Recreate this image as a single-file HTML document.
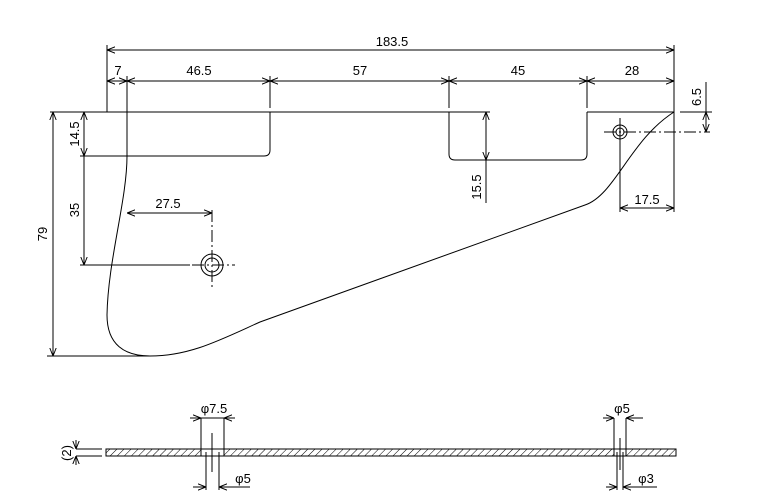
<!DOCTYPE html>
<html><head><style>
html,body{margin:0;padding:0;background:#fff;}
svg{display:block;}
text{font-family:"Liberation Sans",sans-serif;font-size:13px;fill:#000;}
</style></head><body>
<svg width="765" height="501" viewBox="0 0 765 501" xmlns="http://www.w3.org/2000/svg">
<defs>
<pattern id="h" width="5" height="5" patternUnits="userSpaceOnUse" patternTransform="rotate(45)">
<line x1="0" y1="0" x2="0" y2="5" stroke="#000" stroke-width="1"/>
</pattern>
<marker id="a" viewBox="0 0 10 10" refX="10" refY="5" markerWidth="8" markerHeight="8" orient="auto-start-reverse" markerUnits="userSpaceOnUse">
<path d="M0,1 L10,5 L0,9" fill="none" stroke="#000" stroke-width="1.2"/>
</marker>
</defs>
<g stroke="#000" stroke-width="1" fill="none">
<line x1="107" y1="45" x2="107" y2="112"/>
<line x1="674" y1="45" x2="674" y2="112"/>
<line x1="127" y1="76" x2="127" y2="156"/>
<line x1="270" y1="76" x2="270" y2="108"/>
<line x1="449" y1="76" x2="449" y2="108"/>
<line x1="587" y1="76" x2="587" y2="108"/>
<line x1="107" y1="50" x2="674" y2="50" marker-start="url(#a)" marker-end="url(#a)"/>
<line x1="107" y1="81" x2="127" y2="81" marker-start="url(#a)" marker-end="url(#a)"/>
<line x1="127" y1="81" x2="270" y2="81" marker-start="url(#a)" marker-end="url(#a)"/>
<line x1="270" y1="81" x2="449" y2="81" marker-start="url(#a)" marker-end="url(#a)"/>
<line x1="449" y1="81" x2="587" y2="81" marker-start="url(#a)" marker-end="url(#a)"/>
<line x1="587" y1="81" x2="674" y2="81" marker-start="url(#a)" marker-end="url(#a)"/>
<path d="M50,112 H270 M270,112 V150 Q270,156 264,156 H127 M127,156 C127,200 108,260 107,315 C107,345 125,356 150,356 C190,356 220,340 260,322 L585,205 C615,195 630,140 674,112"/>
<path d="M449,112 V154 Q449,160 455,160 H581 Q587,160 587,154 V112 M587,112 H674"/>
<line x1="270" y1="112" x2="449" y2="112"/>
<line x1="449" y1="112" x2="490" y2="112"/>
<line x1="680" y1="112" x2="712" y2="112"/>
<line x1="47" y1="356" x2="150" y2="356"/>
<line x1="53" y1="112" x2="53" y2="356" marker-start="url(#a)" marker-end="url(#a)"/>
<line x1="80" y1="156" x2="127" y2="156"/>
<line x1="84" y1="112" x2="84" y2="156" marker-start="url(#a)" marker-end="url(#a)"/>
<line x1="84" y1="156" x2="84" y2="265" marker-end="url(#a)"/>
<line x1="80" y1="265" x2="190" y2="265"/>
<line x1="127" y1="213" x2="212" y2="213" marker-start="url(#a)" marker-end="url(#a)"/>
<circle cx="212" cy="265" r="11"/>
<circle cx="212" cy="265" r="7"/>
<line x1="212" y1="210" x2="212" y2="290" stroke-dasharray="12,3,2,3"/>
<line x1="192" y1="265" x2="235" y2="265" stroke-dasharray="12,3,2,3"/>
<line x1="486" y1="112" x2="486" y2="160" marker-start="url(#a)" marker-end="url(#a)"/>
<line x1="486" y1="160" x2="486" y2="203"/>
<circle cx="620" cy="132" r="7"/>
<circle cx="620" cy="132" r="4"/>
<line x1="604" y1="132" x2="710" y2="132" stroke-dasharray="12,3,2,3"/>
<line x1="620" y1="118" x2="620" y2="212"/>
<line x1="706" y1="82" x2="706" y2="112"/>
<line x1="706" y1="112" x2="706" y2="132" marker-start="url(#a)" marker-end="url(#a)"/>
<line x1="620" y1="208" x2="674" y2="208" marker-start="url(#a)" marker-end="url(#a)"/>
<line x1="674" y1="112" x2="674" y2="212"/>
<rect x="106" y="449" width="95" height="7" fill="url(#h)"/>
<rect x="224" y="449" width="390" height="7" fill="url(#h)"/>
<rect x="626" y="449" width="50" height="7" fill="url(#h)"/>
<path d="M201,449 H224 M201,456 H224 M614,449 H626 M614,456 H626"/>
<line x1="76" y1="449" x2="102" y2="449"/>
<line x1="76" y1="456" x2="102" y2="456"/>
<line x1="76" y1="440" x2="76" y2="449" marker-end="url(#a)"/>
<line x1="76" y1="465" x2="76" y2="456" marker-end="url(#a)"/>
<line x1="201" y1="418" x2="201" y2="452"/>
<line x1="224" y1="418" x2="224" y2="452"/>
<line x1="206" y1="452" x2="206" y2="490"/>
<line x1="219" y1="452" x2="219" y2="490"/>
<line x1="212" y1="433" x2="212" y2="472"/>
<line x1="190" y1="418" x2="201" y2="418" marker-end="url(#a)"/>
<line x1="235" y1="418" x2="224" y2="418" marker-end="url(#a)"/>
<line x1="201" y1="418" x2="224" y2="418"/>
<line x1="193" y1="487" x2="206" y2="487" marker-end="url(#a)"/>
<line x1="250" y1="487" x2="219" y2="487" marker-end="url(#a)"/>
<line x1="614" y1="418" x2="614" y2="452"/>
<line x1="626" y1="418" x2="626" y2="452"/>
<line x1="617" y1="452" x2="617" y2="490"/>
<line x1="623" y1="452" x2="623" y2="490"/>
<line x1="620" y1="438" x2="620" y2="470"/>
<line x1="603" y1="418" x2="614" y2="418" marker-end="url(#a)"/>
<line x1="643" y1="418" x2="626" y2="418" marker-end="url(#a)"/>
<line x1="606" y1="487" x2="617" y2="487" marker-end="url(#a)"/>
<line x1="657" y1="487" x2="623" y2="487" marker-end="url(#a)"/>
</g>
<g>
<text x="392" y="46" text-anchor="middle">183.5</text>
<text x="118" y="75" text-anchor="middle">7</text>
<text x="199" y="75" text-anchor="middle">46.5</text>
<text x="360" y="75" text-anchor="middle">57</text>
<text x="518" y="75" text-anchor="middle">45</text>
<text x="632" y="75" text-anchor="middle">28</text>
<text x="168" y="208" text-anchor="middle">27.5</text>
<text x="647" y="204" text-anchor="middle">17.5</text>
<text transform="translate(47,234) rotate(-90)" text-anchor="middle">79</text>
<text transform="translate(79,134) rotate(-90)" text-anchor="middle">14.5</text>
<text transform="translate(79,210) rotate(-90)" text-anchor="middle">35</text>
<text transform="translate(481,187) rotate(-90)" text-anchor="middle">15.5</text>
<text transform="translate(701,97) rotate(-90)" text-anchor="middle">6.5</text>
<text transform="translate(71,453) rotate(-90)" text-anchor="middle">(2)</text>
<text x="214" y="413" text-anchor="middle">φ7.5</text>
<text x="243" y="483" text-anchor="middle">φ5</text>
<text x="622" y="413" text-anchor="middle">φ5</text>
<text x="646" y="483" text-anchor="middle">φ3</text>
</g>
</svg>
</body></html>
